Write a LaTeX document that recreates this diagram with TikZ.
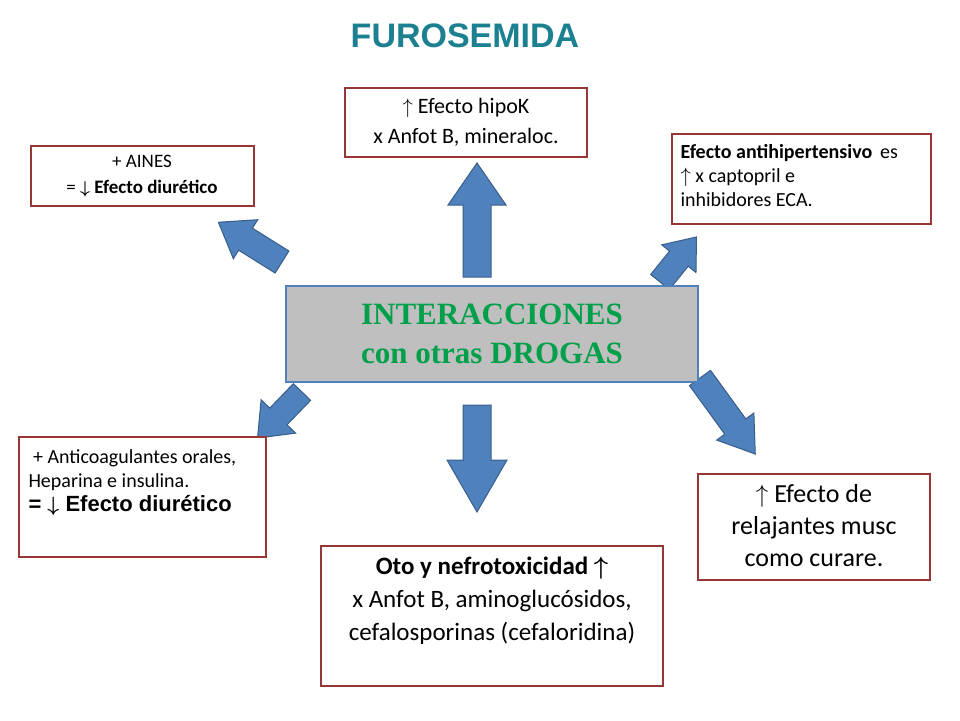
\documentclass[tikz,border=0pt]{standalone}
\usepackage{amsmath}
\usepackage{bm}
\usepackage{fontspec}
\setmainfont{Carlito}
\newfontfamily\arialfont{Liberation Sans}
\newfontfamily\serifbold{Liberation Serif}
\definecolor{boxred}{HTML}{953735}
\definecolor{arrowblue}{HTML}{4F81BD}
\definecolor{arrowedge}{HTML}{385D8A}
\definecolor{titleteal}{HTML}{1C8090}
\definecolor{centergreen}{HTML}{00A04A}
\newcommand{\blockarrow}[6]{% tail, angle, length, shaft half, head half, head length
  \filldraw[draw=arrowedge, fill=arrowblue, line width=1pt, shift={#1}, rotate=#2]
    (0,-#4) -- (#3-#6,-#4) -- (#3-#6,-#5) -- (#3,0) -- (#3-#6,#5) -- (#3-#6,#4) -- (0,#4) -- cycle;}
\begin{document}
\begin{tikzpicture}[x=1pt,y=-1pt]
  \useasboundingbox (0,0) rectangle (960,720);

  % arrows
  \blockarrow{(282,262)}{148}{75}{13}{23}{32}
  \blockarrow{(660,282)}{51}{58}{12}{22}{28}
  \blockarrow{(302,392)}{-134}{64}{12}{24}{30}
  \blockarrow{(700,378)}{-54}{94}{13}{23}{34}
  \blockarrow{(477,277)}{90}{114}{14}{29}{42}
  \blockarrow{(477,405)}{-90}{107}{14}{30}{52}

  % title
  \node (title) at (465,36) {\arialfont\bfseries\fontsize{34}{36}\selectfont\color{titleteal}FUROSEMIDA};

  % centre
  \filldraw[draw=arrowblue, fill=black!25, line width=2pt] (286,286) rectangle (698,382);
  \node[align=center, text=centergreen, font=\serifbold\bfseries\fontsize{31}{39}\selectfont] (center) at (492,334)
    {INTERACCIONES\\con otras DROGAS};

  % boxes
  \filldraw[draw=boxred, line width=2pt, fill=white] (345,88) rectangle (587,157);
  \node[align=center, font=\fontsize{22}{30}\selectfont] (hipok) at (466,122)
    {$\uparrow$ Efecto hipoK\\x Anfot B, mineraloc.};

  \filldraw[draw=boxred, line width=2pt, fill=white] (31,146) rectangle (254,206);
  \node[align=center, font=\fontsize{19}{26}\selectfont] (aines) at (142,176)
    {+ AINES\\= $\bm{\downarrow}$ \textbf{Efecto diurético}};

  \filldraw[draw=boxred, line width=2pt, fill=white] (672,134) rectangle (931,224);
  \node[align=left, anchor=north west, font=\fontsize{20}{24}\selectfont] (antihip) at (677,141)
    {\textbf{Efecto antihipertensivo}\, es\\$\uparrow$ x captopril e\\inhibidores ECA.};

  \filldraw[draw=boxred, line width=2pt, fill=white] (19,437) rectangle (266,557);
  \node[align=left, anchor=north west, font=\fontsize{20}{24}\selectfont] (anticoag) at (25,446)
    {\ + Anticoagulantes orales,\\Heparina e insulina.\\{\arialfont\bfseries\fontsize{22}{26}\selectfont = $\bm{\downarrow}$ Efecto diurético}};

  \filldraw[draw=boxred, line width=2pt, fill=white] (321,546) rectangle (663,686);
  \node[align=center, anchor=north, font=\fontsize{25}{33}\selectfont] (oto) at (492,553)
    {\textbf{Oto y nefrotoxicidad $\bm{\uparrow}$}\\x Anfot B, aminoglucósidos,\\cefalosporinas (cefaloridina)};

  \filldraw[draw=boxred, line width=2pt, fill=white] (698,474) rectangle (930,580);
  \node[align=center, font=\fontsize{26}{32}\selectfont] (relaj) at (814,526)
    {$\uparrow$ Efecto de\\relajantes musc\\como curare.};
\end{tikzpicture}
\end{document}
